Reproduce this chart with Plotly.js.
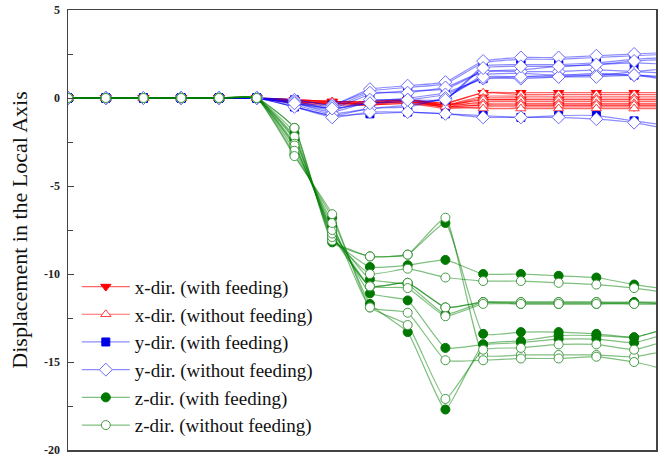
<!DOCTYPE html>
<html>
<head>
<meta charset="utf-8">
<script src="https://cdn.plot.ly/plotly-3.0.1.min.js"></script>
<style>html,body{margin:0;padding:0;background:#fff;}#chart{width:662px;height:462px;}</style>
</head>
<body>
<div id="chart"></div>
<script>
// Load step index (x positions)
var steps = [0,1,2,3,4,5,6,7,8,9,10,11,12,13,14,15,16];

// Legend labels
var legendLabels = [
  "x-dir. (with feeding)", "x-dir. (without feeding)",
  "y-dir. (with feeding)", "y-dir. (without feeding)",
  "z-dir. (with feeding)", "z-dir. (without feeding)"
];
var yTickVals = [5, 0, -5, -10, -15, -20];
var yTickText = ["5", "0", "-5", "-10", "-15", "-20"];

// x-direction, with feeding (6 nodes)
var xWith1 = [0,0,0,0,0,0,-0.1,-0.2,-0.2,-0.1,-0.3, 0.3, 0.3, 0.3, 0.3, 0.3, 0.3];
var xWith2 = [0,0,0,0,0,0,-0.1,-0.2,-0.3,-0.1,-0.4, 0.1, 0.1, 0.1, 0.1, 0.1, 0.1];
var xWith3 = [0,0,0,0,0,0,-0.2,-0.3,-0.3,-0.2,-0.4,-0.1,-0.1,-0.1,-0.1,-0.1,-0.1];
var xWith4 = [0,0,0,0,0,0,-0.2,-0.3,-0.3,-0.2,-0.5,-0.2,-0.2,-0.2,-0.2,-0.2,-0.2];
var xWith5 = [0,0,0,0,0,0,-0.2,-0.3,-0.4,-0.2,-0.5,-0.4,-0.4,-0.4,-0.4,-0.4,-0.4];
var xWith6 = [0,0,0,0,0,0,-0.3,-0.4,-0.4,-0.3,-0.6,-0.5,-0.5,-0.5,-0.5,-0.5,-0.5];
// x-direction, without feeding
var xWo1 = [0,0,0,0,0,0,-0.1,-0.2,-0.2,-0.1,-0.3, 0.3, 0.2, 0.2, 0.2, 0.2, 0.2];
var xWo2 = [0,0,0,0,0,0,-0.1,-0.2,-0.2,-0.1,-0.4, 0.0, 0.0, 0.0, 0.0, 0.0, 0.0];
var xWo3 = [0,0,0,0,0,0,-0.2,-0.2,-0.3,-0.1,-0.4,-0.1,-0.1,-0.1,-0.1,-0.1,-0.1];
var xWo4 = [0,0,0,0,0,0,-0.2,-0.3,-0.3,-0.2,-0.4,-0.3,-0.3,-0.3,-0.3,-0.3,-0.3];
var xWo5 = [0,0,0,0,0,0,-0.2,-0.3,-0.3,-0.2,-0.5,-0.4,-0.4,-0.4,-0.4,-0.4,-0.4];
var xWo6 = [0,0,0,0,0,0,-0.3,-0.3,-0.4,-0.3,-0.5,-0.6,-0.6,-0.6,-0.6,-0.6,-0.6];

// y-direction, with feeding
var yWith1 = [0,0,0,0,0,0,-0.1,-0.4, 0.4, 0.6, 0.8, 2.0, 2.2, 2.2, 2.3, 2.4, 2.5];
var yWith2 = [0,0,0,0,0,0,-0.2,-0.6, 0.2, 0.4, 0.5, 1.5, 1.6, 1.8, 1.9, 2.0, 1.9];
var yWith3 = [0,0,0,0,0,0,-0.3,-0.8,-0.2, 0.0, 0.3, 1.1, 1.2, 1.3, 1.3, 1.5, 1.7];
var yWith4 = [0,0,0,0,0,0,-0.5,-1.0,-0.6,-0.5, 0.0, 1.3, 1.4, 1.3, 1.4, 1.3, 1.0];
var yWith5 = [0,0,0,0,0,0,-0.5,-1.0,-0.9,-0.8,-0.9,-1.0,-1.1,-1.0,-1.0,-1.3,-1.6];
var yWith6 = [0,0,0,0,0,0,-0.3,-0.6,-0.3,-0.2,-0.1, 1.8, 1.9, 1.9, 2.0, 2.2, 2.3];
// y-direction, without feeding
var yWo1 = [0,0,0,0,0,0,-0.1,-0.4, 0.5, 0.7, 0.9, 2.1, 2.3, 2.3, 2.4, 2.5, 2.6];
var yWo2 = [0,0,0,0,0,0,-0.2,-0.5, 0.3, 0.3, 0.6, 1.5, 1.5, 1.5, 1.6, 1.5, 1.4];
var yWo3 = [0,0,0,0,0,0,-0.3,-0.7,-0.1,-0.1, 0.2, 1.1, 1.1, 1.2, 1.3, 1.3, 1.2];
var yWo4 = [0,0,0,0,0,0,-0.4,-0.9,-0.6,-0.4, 0.0, 1.2, 1.2, 1.2, 1.2, 1.3, 1.1];
var yWo5 = [0,0,0,0,0,0,-0.5,-1.1,-0.8,-0.8,-0.9,-1.1,-1.1,-1.1,-1.2,-1.4,-1.8];
var yWo6 = [0,0,0,0,0,0,-0.3,-0.6,-0.3,-0.1,-0.1, 1.7, 1.8, 1.8, 1.9, 2.1, 2.2];

// z-direction, with feeding
var zWith1 = [0,0,0,0,0,0,-1.7,-8.2, -9.0, -8.9, -7.1,-13.4,-13.3,-13.3,-13.4,-13.6,-13.0];
var zWith2 = [0,0,0,0,0,0,-2.0,-8.0, -9.6, -9.5, -9.2,-10.0,-10.0,-10.1,-10.2,-10.6,-10.9];
var zWith3 = [0,0,0,0,0,0,-2.4,-7.8,-10.7,-10.5,-11.9,-11.6,-11.6,-11.6,-11.6,-11.6,-11.7];
var zWith4 = [0,0,0,0,0,0,-2.3,-7.6,-10.3,-10.6,-12.3,-11.6,-11.7,-11.7,-11.7,-11.6,-11.6];
var zWith5 = [0,0,0,0,0,0,-2.8,-7.3,-11.1,-11.5,-14.2,-14.0,-13.9,-13.7,-13.7,-13.9,-13.3];
var zWith6 = [0,0,0,0,0,0,-3.2,-6.8,-11.7,-13.3,-17.7,-14.0,-13.8,-13.5,-13.5,-13.6,-13.0];
// z-direction, without feeding
var zWo1 = [0,0,0,0,0,0,-1.7,-8.1, -9.0, -8.9, -6.8,-14.6,-14.6,-14.6,-14.6,-14.7,-14.3];
var zWo2 = [0,0,0,0,0,0,-2.2,-7.9,-10.0, -9.7,-10.2,-10.4,-10.4,-10.5,-10.6,-10.8,-11.1];
var zWo3 = [0,0,0,0,0,0,-2.6,-7.7,-10.7,-10.5,-11.9,-11.6,-11.6,-11.6,-11.6,-11.7,-11.7];
var zWo4 = [0,0,0,0,0,0,-2.7,-7.5,-10.7,-10.8,-12.4,-11.7,-11.7,-11.7,-11.7,-11.7,-11.7];
var zWo5 = [0,0,0,0,0,0,-3.0,-7.1,-11.9,-12.2,-14.9,-14.9,-14.8,-14.8,-14.7,-15.0,-15.5];
var zWo6 = [0,0,0,0,0,0,-3.3,-6.6,-11.9,-12.9,-17.1,-14.3,-14.2,-14.0,-14.0,-14.3,-13.7];

var groups = [
  {name: legendLabels[0], series: [xWith1,xWith2,xWith3,xWith4,xWith5,xWith6],
   line: 'rgba(255,0,0,0.6)', marker: {symbol:'triangle-down', size:9, color:'rgb(255,0,0)', line:{color:'rgb(255,0,0)', width:1}}},
  {name: legendLabels[1], series: [xWo1,xWo2,xWo3,xWo4,xWo5,xWo6],
   line: 'rgba(255,0,0,0.6)', marker: {symbol:'triangle-up', size:9, color:'#ffffff', line:{color:'rgb(255,60,60)', width:1}}},
  {name: legendLabels[2], series: [yWith1,yWith2,yWith3,yWith4,yWith5,yWith6],
   line: 'rgba(0,0,255,0.45)', marker: {symbol:'square', size:8, color:'rgb(0,0,230)', line:{color:'rgb(0,0,230)', width:1}}},
  {name: legendLabels[3], series: [yWo1,yWo2,yWo3,yWo4,yWo5,yWo6],
   line: 'rgba(0,0,255,0.45)', marker: {symbol:'diamond', size:10, color:'#ffffff', line:{color:'rgb(110,110,255)', width:1}}},
  {name: legendLabels[4], series: [zWith1,zWith2,zWith3,zWith4,zWith5,zWith6],
   line: 'rgba(0,128,0,0.5)', marker: {symbol:'circle', size:9, color:'rgb(0,120,0)', line:{color:'rgb(0,120,0)', width:1}}},
  {name: legendLabels[5], series: [zWo1,zWo2,zWo3,zWo4,zWo5,zWo6],
   line: 'rgba(0,128,0,0.5)', marker: {symbol:'circle', size:9, color:'#ffffff', line:{color:'rgb(70,155,70)', width:1}}}
];

var traces = [];
groups.forEach(function(g, gi){
  g.series.forEach(function(s, si){
    traces.push({
      type: 'scatter', mode: 'lines+markers',
      x: steps, y: s,
      name: g.name, legendgroup: 'g' + gi, showlegend: si === 0,
      line: {color: g.line, width: 1.2, shape: 'spline', smoothing: 0.4},
      marker: g.marker,
      hoverinfo: 'skip'
    });
  });
});

var layout = {
  width: 662, height: 462,
  margin: {l: 68, r: 6, t: 10, b: 12, autoexpand: false},
  paper_bgcolor: '#ffffff', plot_bgcolor: '#ffffff',
  font: {family: 'Liberation Serif, serif', color: '#000'},
  showlegend: true,
  legend: {
    x: 0.015, y: 0.012, xanchor: 'left', yanchor: 'bottom',
    bgcolor: 'rgba(255,255,255,0)', borderwidth: 0,
    font: {family: 'Liberation Serif, serif', size: 19, color: '#111'},
    tracegroupgap: 0, itemwidth: 48
  },
  xaxis: {
    range: [0, 15.58], showticklabels: false, ticks: '',
    showgrid: false, zeroline: false,
    showline: true, linecolor: '#444', linewidth: 1.5, mirror: true
  },
  yaxis: {
    range: [-20, 5], tickmode: 'array', tickvals: yTickVals, ticktext: yTickText,
    ticks: 'inside', ticklen: 6, tickwidth: 1, tickcolor: '#444',
    minor: {dtick: 2.5, ticks: 'inside', ticklen: 5, tickcolor: '#444', tickwidth: 1},
    tickfont: {family: 'Liberation Serif, serif', size: 12, color: '#222', weight: 'bold'},
    ticklabelstandoff: 4,
    showgrid: false, zeroline: false,
    showline: true, linecolor: '#444', linewidth: 1.5, mirror: true,
    title: {text: 'Displacement in the Local Axis', standoff: 10,
            font: {family: 'Liberation Serif, serif', size: 22, color: '#111'}}
  }
};

Plotly.newPlot('chart', traces, layout, {staticPlot: true, displayModeBar: false});
</script>
</body>
</html>
